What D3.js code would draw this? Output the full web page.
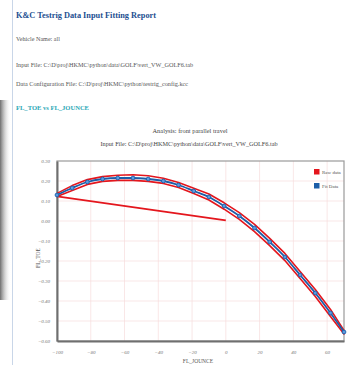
<!DOCTYPE html>
<html>
<head>
<meta charset="utf-8">
<script src="https://cdn.jsdelivr.net/npm/d3@7"></script>
<style>
  body { margin: 0; background: #fff; }
  svg { display: block; font-family: "Liberation Serif", "DejaVu Serif", serif; }
</style>
</head>
<body>
<div id="report"></div>
<script>
// fit curve (blue, with markers)
const jounceFit = [-100, -91, -82, -73, -64, -55, -46, -37, -28, -19, -10, -1, 8, 17, 26, 35, 44, 53, 62, 70]
const toeFit = [0.13, 0.165, 0.195, 0.21, 0.215, 0.215, 0.21, 0.2, 0.18, 0.15, 0.12, 0.075, 0.025, -0.035, -0.105, -0.18, -0.27, -0.36, -0.46, -0.555]

// raw data (red) - loading branch, unloading branch, then the return stroke
const jounceRawUp = [-100, -91, -82, -73, -64, -55, -46, -37, -28, -19, -10, -1, 8, 17, 26, 35, 44, 53, 62, 70]
const toeRawUp = [0.138, 0.177, 0.207, 0.222, 0.229, 0.231, 0.226, 0.214, 0.193, 0.164, 0.135, 0.091, 0.042, -0.017, -0.087, -0.162, -0.252, -0.342, -0.442, -0.547]
const jounceRawDown = [70, 62, 53, 44, 35, 26, 17, 8, -1, -10, -19, -28, -37, -46, -55, -64, -73, -82, -91, -100, 0]
const toeRawDown = [-0.565, -0.478, -0.378, -0.288, -0.198, -0.123, -0.053, 0.008, 0.059, 0.105, 0.137, 0.168, 0.188, 0.198, 0.203, 0.203, 0.198, 0.183, 0.153, 0.123, 0.003]

const xTicks = [-100, -80, -60, -40, -20, 0, 20, 40, 60]
const yTicks = [0.3, 0.2, 0.1, 0.0, -0.1, -0.2, -0.3, -0.4, -0.5, -0.6]

const seriesNames = ["Raw data", "Fit Data"]
const seriesColors = ["#e4161d", "#1c5ea8"]

const width = 355, height = 365
const plot = { left: 57, right: 344, top: 161, bottom: 341 }

const svg = d3.select("#report").append("svg")
  .attr("width", width)
  .attr("height", height)

// shadow at the left edge
const grad = svg.append("defs").append("linearGradient").attr("id", "shade")
grad.append("stop").attr("offset", "0%").attr("stop-color", "#6e6e6e")
grad.append("stop").attr("offset", "100%").attr("stop-color", "#fff").attr("stop-opacity", 0)
svg.append("rect").attr("x", 0).attr("y", 100).attr("width", 11).attr("height", 200)
  .attr("fill", "url(#shade)")

svg.append("line").attr("x1", 12.5).attr("x2", 12.5).attr("y1", 0).attr("y2", height)
  .attr("stroke", "#c9d6e8").attr("stroke-width", 1)

// report header
const header = [
  { t: "K&C Testrig Data Input Fitting Report", y: 18, size: 9, w: 140, fill: "#1d4f91", bold: true },
  { t: "Vehicle Name: all", y: 41, size: 5.5, w: 44, fill: "#555" },
  { t: "Input File: C:\\D\\proj\\HKMC\\python\\data\\GOLF\\vert_VW_GOLF6.tab", y: 67, size: 5.5, w: 177, fill: "#555" },
  { t: "Data Configuration File: C:\\D\\proj\\HKMC\\python\\testrig_config.kcc", y: 86, size: 5.5, w: 172, fill: "#555" },
  { t: "FL_TOE vs FL_JOUNCE", y: 110, size: 7, w: 73, fill: "#2aa7b6", bold: true }
]
svg.selectAll("text.hdr").data(header).join("text")
  .attr("class", "hdr")
  .attr("x", 16)
  .attr("y", d => d.y)
  .attr("font-size", d => d.size)
  .attr("font-weight", d => d.bold ? "bold" : "normal")
  .attr("fill", d => d.fill)
  .attr("textLength", d => d.w)
  .attr("lengthAdjust", "spacingAndGlyphs")
  .text(d => d.t)

// chart titles
svg.append("text").attr("x", 190).attr("y", 133).attr("text-anchor", "middle")
  .attr("font-size", 6).attr("fill", "#444")
  .attr("textLength", 75).attr("lengthAdjust", "spacingAndGlyphs")
  .text("Analysis: front parallel travel")
svg.append("text").attr("x", 189).attr("y", 146).attr("text-anchor", "middle")
  .attr("font-size", 6).attr("fill", "#444")
  .attr("textLength", 177).attr("lengthAdjust", "spacingAndGlyphs")
  .text("Input File: C:\\D\\proj\\HKMC\\python\\data\\GOLF\\vert_VW_GOLF6.tab")

const x = d3.scaleLinear().domain([-100, 70]).range([plot.left, plot.right])
const y = d3.scaleLinear().domain([-0.6, 0.3]).range([plot.bottom, plot.top])

// grid
svg.append("g").attr("stroke", "#f6dcdc").attr("stroke-width", 0.7)
  .selectAll("line.gx").data(xTicks.slice(1)).join("line")
  .attr("x1", d => x(d)).attr("x2", d => x(d))
  .attr("y1", plot.top).attr("y2", plot.bottom)
svg.append("g").attr("stroke", "#f6dcdc").attr("stroke-width", 0.7)
  .selectAll("line.gy").data(yTicks.slice(1, -1)).join("line")
  .attr("x1", plot.left).attr("x2", plot.right)
  .attr("y1", d => y(d)).attr("y2", d => y(d))

// frame
svg.append("rect")
  .attr("x", plot.left).attr("y", plot.top)
  .attr("width", plot.right - plot.left).attr("height", plot.bottom - plot.top)
  .attr("fill", "none").attr("stroke", "#9a9a9a").attr("stroke-width", 1.2)

// axes
const xAxis = svg.append("g")
  .attr("transform", `translate(0,${plot.bottom})`)
  .call(d3.axisBottom(x).tickValues(xTicks).tickSize(0).tickPadding(9).tickFormat(d3.format("d")))
xAxis.select(".domain").attr("stroke", "#6f6f6f").attr("stroke-width", 2)

const yAxis = svg.append("g")
  .attr("transform", `translate(${plot.left},0)`)
  .call(d3.axisLeft(y).tickValues(yTicks).tickSize(0).tickPadding(7).tickFormat(d3.format(".2f")))
yAxis.select(".domain").attr("stroke", "#6f6f6f").attr("stroke-width", 2)

svg.selectAll(".tick text")
  .attr("font-family", "Liberation Serif, serif")
  .attr("font-style", "italic")
  .attr("font-size", 5)
  .attr("fill", "#7a7a7a")

svg.append("text").attr("x", 198).attr("y", 363).attr("text-anchor", "middle")
  .attr("font-size", 5.5).attr("fill", "#555").text("FL_JOUNCE")
svg.append("text").attr("transform", "translate(40,258) rotate(-90)")
  .attr("text-anchor", "middle").attr("font-size", 5.5).attr("fill", "#555").text("FL_TOE")

// raw data path
const rawPts = jounceRawUp.map((d, i) => [d, toeRawUp[i]])
  .concat(jounceRawDown.map((d, i) => [d, toeRawDown[i]]))
const line = d3.line().x(d => x(d[0])).y(d => y(d[1])).curve(d3.curveLinear)
svg.append("path")
  .attr("d", line(rawPts))
  .attr("fill", "none")
  .attr("stroke", seriesColors[0])
  .attr("stroke-width", 1.6)
  .attr("stroke-linejoin", "round")

// fit data
const fitPts = jounceFit.map((d, i) => [d, toeFit[i]])
svg.append("path")
  .attr("d", d3.line().x(d => x(d[0])).y(d => y(d[1])).curve(d3.curveMonotoneX)(fitPts))
  .attr("fill", "none")
  .attr("stroke", seriesColors[1])
  .attr("stroke-width", 1.8)
svg.append("g").selectAll("circle").data(fitPts).join("circle")
  .attr("cx", d => x(d[0]))
  .attr("cy", d => y(d[1]))
  .attr("r", 1.9)
  .attr("fill", "#5a9be0")
  .attr("stroke", seriesColors[1])
  .attr("stroke-width", 0.9)

// legend
const legend = svg.append("g").selectAll("g").data(seriesNames).join("g")
  .attr("transform", (d, i) => `translate(314,${169 + i * 14})`)
legend.append("rect").attr("width", 5.5).attr("height", 5.5)
  .attr("fill", (d, i) => seriesColors[i])
legend.append("text").attr("x", 8).attr("y", 4.8)
  .attr("font-size", 5).attr("fill", "#555").text(d => d)
</script>
</body>
</html>
